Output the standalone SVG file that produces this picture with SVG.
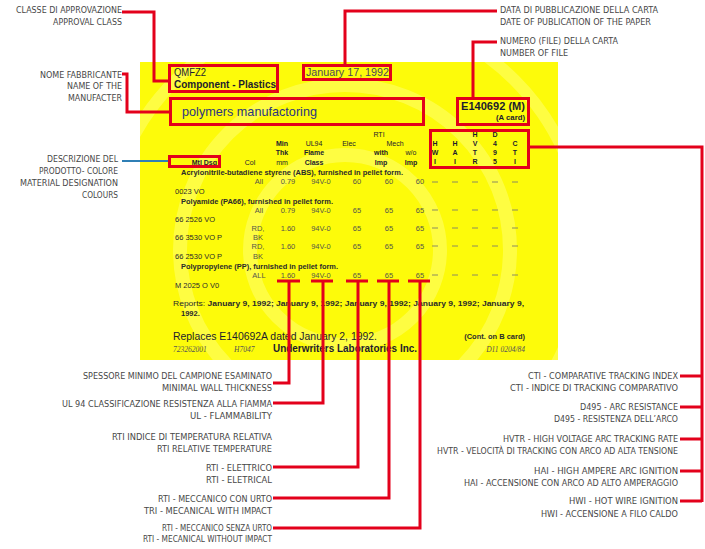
<svg xmlns="http://www.w3.org/2000/svg" width="705" height="549" viewBox="0 0 705 549">
<defs>
<clipPath id="cardClip"><rect x="140" y="62" width="418" height="298"/></clipPath>
<style>
.lbl{font-family:"Liberation Sans Narrow","DejaVu Sans Condensed","Liberation Sans",sans-serif;font-size:9.5px;fill:#474747}
.c{font-family:"Liberation Sans",Arial,sans-serif;fill:#1c1c2e}
.h{font-family:"Liberation Sans",Arial,sans-serif;font-size:7px;font-weight:bold;fill:#1c1c2e;text-anchor:middle}
.d{font-family:"Liberation Sans",Arial,sans-serif;font-size:7.5px;fill:#55554a;text-anchor:middle}
.r{font-family:"Liberation Sans",Arial,sans-serif;font-size:7.5px;fill:#2a2a2a}
.b{font-family:"Liberation Sans",Arial,sans-serif;font-size:7.5px;font-weight:bold;fill:#2a2a2a}
.box{fill:none;stroke:#e3001b;stroke-width:3}
.con{fill:none;stroke:#e3001b;stroke-width:3}
.dash{stroke:#8a8a60;stroke-width:1}
</style>
</defs>
<rect width="705" height="549" fill="#ffffff"/>

<g id="card">
<rect x="140" y="62" width="418" height="298" fill="#fdfb0a"/>
<g clip-path="url(#cardClip)" fill="none" stroke="#ffff7a" stroke-opacity="0.5">
<circle cx="345" cy="250" r="165" stroke-width="14"/>
<circle cx="345" cy="250" r="95" stroke-width="14"/>
<circle cx="345" cy="250" r="240" stroke-width="12"/>
</g>
<text class="c" x="174" y="76" font-size="10.5" textLength="32" lengthAdjust="spacingAndGlyphs">QMFZ2</text>
<text class="c" x="174" y="88" font-size="10.5" font-weight="bold" textLength="102" lengthAdjust="spacingAndGlyphs">Component - Plastics</text>
<text class="c" x="306" y="76" font-size="10.5" style="fill:#4a4a5a" textLength="83" lengthAdjust="spacingAndGlyphs">January 17, 1992</text>
<text class="c" x="182" y="115.5" font-size="13" style="fill:#2b3580" textLength="135" lengthAdjust="spacingAndGlyphs">polymers manufactoring</text>
<text class="c" x="461" y="110" font-size="11" font-weight="bold" textLength="64" lengthAdjust="spacingAndGlyphs">E140692 (M)</text>
<text class="c" x="496" y="120" font-size="7" font-weight="bold" textLength="29" lengthAdjust="spacingAndGlyphs">(A card)</text>

<text class="h" x="379" y="136.5" style="font-weight:normal">RTI</text>
<text class="h" x="282" y="145.5">Min</text>
<text class="h" x="314" y="145.5" style="font-weight:normal">UL94</text>
<text class="h" x="349" y="145.5" style="font-weight:normal">Elec</text>
<text class="h" x="395" y="145.5" style="font-weight:normal">Mech</text>
<text class="h" x="282" y="155">Thk</text>
<text class="h" x="314" y="155">Flame</text>
<text class="h" x="381" y="155">with</text>
<text class="h" x="411" y="155" style="font-weight:normal">w/o</text>
<text class="h" x="217" y="164.5" style="text-anchor:end">Mtl Dsg</text>
<text class="h" x="250" y="164.5" style="font-weight:normal">Col</text>
<text class="h" x="282" y="164.5" style="font-weight:normal">mm</text>
<text class="h" x="314" y="164.5">Class</text>
<text class="h" x="381" y="164.5">Imp</text>
<text class="h" x="411" y="164.5">Imp</text>

<text class="h" x="475" y="136.5">H</text><text class="h" x="495" y="136.5">D</text>
<text class="h" x="435" y="145.5">H</text><text class="h" x="455" y="145.5">H</text><text class="h" x="475" y="145.5">V</text><text class="h" x="495" y="145.5">4</text><text class="h" x="515" y="145.5">C</text>
<text class="h" x="435" y="154.5">W</text><text class="h" x="455" y="154.5">A</text><text class="h" x="475" y="154.5">T</text><text class="h" x="495" y="154.5">9</text><text class="h" x="515" y="154.5">T</text>
<text class="h" x="435" y="163.5">I</text><text class="h" x="455" y="163.5">I</text><text class="h" x="475" y="163.5">R</text><text class="h" x="495" y="163.5">5</text><text class="h" x="515" y="163.5">I</text>

<text class="b" x="181" y="174.5" textLength="222" lengthAdjust="spacingAndGlyphs">Acrylonitrile-butadiene styrene (ABS), furnished in pellet form.</text>
<text class="d" x="259" y="184">All</text><text class="d" x="288" y="184">0.79</text><text class="d" x="321" y="184">94V-0</text><text class="d" x="357" y="184">60</text><text class="d" x="389" y="184">60</text><text class="d" x="420" y="184">60</text>
<text class="r" x="175" y="194">0023 VO</text>
<text class="b" x="181" y="203.5" textLength="152" lengthAdjust="spacingAndGlyphs">Polyamide (PA66), furnished in pellet form.</text>
<text class="d" x="259" y="213">All</text><text class="d" x="288" y="213">0.79</text><text class="d" x="321" y="213">94V-0</text><text class="d" x="357" y="213">65</text><text class="d" x="389" y="213">65</text><text class="d" x="420" y="213">65</text>
<text class="r" x="175" y="222">66 2526 VO</text>
<text class="d" x="258" y="231">RD,</text><text class="d" x="288" y="231">1.60</text><text class="d" x="321" y="231">94V-0</text><text class="d" x="357" y="231">65</text><text class="d" x="389" y="231">65</text><text class="d" x="420" y="231">65</text>
<text class="r" x="175" y="240">66 3530 VO P</text><text class="d" x="258" y="240">BK</text>
<text class="d" x="258" y="249">RD,</text><text class="d" x="288" y="249">1.60</text><text class="d" x="321" y="249">94V-0</text><text class="d" x="357" y="249">65</text><text class="d" x="389" y="249">65</text><text class="d" x="420" y="249">65</text>
<text class="r" x="175" y="259">66 2530 VO P</text><text class="d" x="258" y="259">BK</text>
<text class="b" x="181" y="268.5" textLength="157" lengthAdjust="spacingAndGlyphs">Polypropylene (PP), furnished in pellet form.</text>
<text class="d" x="259" y="278">ALL</text><text class="d" x="288" y="278">1.60</text><text class="d" x="321" y="278">94V-0</text><text class="d" x="357" y="278">65</text><text class="d" x="389" y="278">65</text><text class="d" x="420" y="278">65</text>
<text class="r" x="175" y="288">M 2025 O V0</text>

<g class="dash">
<path d="M432,182H438M452,182H458M472,182H478M492,182H498M512,182H518"/>
<path d="M432,210H438M452,210H458M472,210H478M492,210H498M512,210H518"/>
<path d="M432,228H438M452,228H458M472,228H478M492,228H498M512,228H518"/>
<path d="M432,246H438M452,246H458M472,246H478M492,246H498M512,246H518"/>
<path d="M432,275H438M452,275H458M472,275H478M492,275H498M512,275H518"/>
</g>

<text class="r" x="173" y="305.5" textLength="351" lengthAdjust="spacingAndGlyphs" font-size="8">Reports: <tspan font-weight="bold">January 9, 1992; January 9, 1992; January 9, 1992; January 9, 1992; January 9,</tspan></text>
<text class="b" x="181" y="315.5" font-size="8">1992.</text>
<text class="c" x="173" y="340" font-size="11.5" textLength="204" lengthAdjust="spacingAndGlyphs">Replaces E140692A dated January 2, 1992.</text>
<text class="b" x="525" y="339" style="text-anchor:end">(Cont. on B card)</text>
<text class="r" x="173" y="352" font-size="6.5" style="font-family:'Liberation Serif',serif;font-style:italic;fill:#555">723262001</text>
<text class="r" x="234" y="352" font-size="6.5" style="font-family:'Liberation Serif',serif;font-style:italic;fill:#555">H7047</text>
<text class="c" x="273" y="352" font-size="10" font-weight="bold" textLength="144" lengthAdjust="spacingAndGlyphs">Underwriters Laboratories Inc.</text>
<text class="r" x="525" y="352" font-size="6.5" style="font-family:'Liberation Serif',serif;font-style:italic;fill:#555;text-anchor:end">D11 0204/84</text>
</g>

<g id="boxes">
<rect class="box" x="169.5" y="65.5" width="108" height="26"/>
<rect class="box" x="303.5" y="65.5" width="87" height="14"/>
<rect class="box" x="170.5" y="98.5" width="253" height="26"/>
<rect class="box" x="457.5" y="98.5" width="71" height="26"/>
<rect class="box" x="430.5" y="130.5" width="98" height="37"/>
<rect class="box" x="169.5" y="156.5" width="50" height="10"/>
</g>

<g id="connectors">
<path class="con" d="M122,12H154V81H168"/>
<path class="con" d="M497,11H345V64"/>
<path class="con" d="M497,42H473V97"/>
<path class="con" d="M122,74H127V112H169"/>
<path d="M122,161H168" fill="none" stroke="#2f7fb5" stroke-width="2"/>
<path class="con" d="M530,147H702V502"/>
<path class="con" d="M680,376H702M680,407H702M680,439H702M680,471H702M680,501H702"/>
<path class="con" d="M277,281H300M289,281V383H273"/>
<path class="con" d="M311,281H333M323,281V403H273"/>
<path class="con" d="M346,281H368M358,281V467H273"/>
<path class="con" d="M377,281H399M389,281V498H273"/>
<path class="con" d="M408,281H430M420,281V528H273"/>
</g>

<g id="label-approval"><text class="lbl" x="16" y="12.5" textLength="106" lengthAdjust="spacingAndGlyphs">CLASSE DI APPROVAZIONE</text><text class="lbl" x="53" y="24.5" textLength="69" lengthAdjust="spacingAndGlyphs">APPROVAL CLASS</text></g>
<g id="label-name"><text class="lbl" x="40" y="77.5" textLength="82" lengthAdjust="spacingAndGlyphs">NOME FABBRICANTE</text><text class="lbl" x="67" y="89" textLength="55" lengthAdjust="spacingAndGlyphs">NAME OF THE</text><text class="lbl" x="68" y="101" textLength="54" lengthAdjust="spacingAndGlyphs">MANUFACTER</text></g>
<g id="label-desc"><text class="lbl" x="47" y="161.5" textLength="71" lengthAdjust="spacingAndGlyphs">DESCRIZIONE DEL</text><text class="lbl" x="39" y="173.5" textLength="79" lengthAdjust="spacingAndGlyphs">PRODOTTO- COLORE</text><text class="lbl" x="20" y="185.5" textLength="98" lengthAdjust="spacingAndGlyphs">MATERIAL DESIGNATION</text><text class="lbl" x="82" y="197.5" textLength="36" lengthAdjust="spacingAndGlyphs">COLOURS</text></g>
<g id="label-date"><text class="lbl" x="500" y="12.5" textLength="158" lengthAdjust="spacingAndGlyphs">DATA DI PUBBLICAZIONE DELLA CARTA</text><text class="lbl" x="500" y="24.5" textLength="151" lengthAdjust="spacingAndGlyphs">DATE OF PUBLICATION OF THE PAPER</text></g>
<g id="label-number"><text class="lbl" x="500" y="43.5" textLength="118" lengthAdjust="spacingAndGlyphs">NUMERO (FILE) DELLA CARTA</text><text class="lbl" x="500" y="55.5" textLength="68" lengthAdjust="spacingAndGlyphs">NUMBER OF FILE</text></g>

<g id="label-thickness"><text class="lbl" x="83" y="378.5" textLength="189" lengthAdjust="spacingAndGlyphs">SPESSORE MINIMO DEL CAMPIONE ESAMINATO</text><text class="lbl" x="162" y="390.5" textLength="110" lengthAdjust="spacingAndGlyphs">MINIMAL WALL THICKNESS</text></g>
<g id="label-ul94"><text class="lbl" x="62" y="406.5" textLength="210" lengthAdjust="spacingAndGlyphs">UL 94 CLASSIFICAZIONE RESISTENZA ALLA FIAMMA</text><text class="lbl" x="190" y="419" textLength="82" lengthAdjust="spacingAndGlyphs">UL - FLAMMABILITY</text></g>
<g id="label-rti"><text class="lbl" x="112" y="439.5" textLength="160" lengthAdjust="spacingAndGlyphs">RTI INDICE DI TEMPERATURA RELATIVA</text><text class="lbl" x="157" y="451.5" textLength="115" lengthAdjust="spacingAndGlyphs">RTI RELATIVE TEMPERATURE</text></g>
<g id="label-rti-elec"><text class="lbl" x="206" y="470.5" textLength="66" lengthAdjust="spacingAndGlyphs">RTI - ELETTRICO</text><text class="lbl" x="206" y="482.5" textLength="66" lengthAdjust="spacingAndGlyphs">RTI - ELETRICAL</text></g>
<g id="label-rti-with"><text class="lbl" x="158" y="501.5" textLength="114" lengthAdjust="spacingAndGlyphs">RTI - MECCANICO CON URTO</text><text class="lbl" x="144" y="513.5" textLength="128" lengthAdjust="spacingAndGlyphs">TRI - MECANICAL WITH IMPACT</text></g>
<g id="label-rti-without"><text class="lbl" x="162" y="531" textLength="110" lengthAdjust="spacingAndGlyphs" font-size="8.5">RTI - MECCANICO SENZA URTO</text><text class="lbl" x="143" y="542" textLength="129" lengthAdjust="spacingAndGlyphs" font-size="8.5">RTI - MECANICAL WITHOUT IMPACT</text></g>

<g id="label-cti"><text class="lbl" x="528" y="378.5" textLength="150" lengthAdjust="spacingAndGlyphs">CTI - COMPARATIVE TRACKING INDEX</text><text class="lbl" x="510" y="390.5" textLength="168" lengthAdjust="spacingAndGlyphs">CTI - INDICE DI TRACKING COMPARATIVO</text></g>
<g id="label-d495"><text class="lbl" x="580" y="409.5" textLength="98" lengthAdjust="spacingAndGlyphs">D495 - ARC RESISTANCE</text><text class="lbl" x="554" y="421.5" textLength="124" lengthAdjust="spacingAndGlyphs">D495 - RESISTENZA DELL’ARCO</text></g>
<g id="label-hvtr"><text class="lbl" x="503" y="442" textLength="175" lengthAdjust="spacingAndGlyphs">HVTR - HIGH VOLTAGE ARC TRACKING RATE</text><text class="lbl" x="437" y="454" textLength="241" lengthAdjust="spacingAndGlyphs">HVTR - VELOCITÀ DI TRACKING CON ARCO AD ALTA TENSIONE</text></g>
<g id="label-hai"><text class="lbl" x="534" y="473.5" textLength="144" lengthAdjust="spacingAndGlyphs">HAI - HIGH AMPERE ARC IGNITION</text><text class="lbl" x="464" y="485.5" textLength="214" lengthAdjust="spacingAndGlyphs">HAI - ACCENSIONE CON ARCO AD ALTO AMPERAGGIO</text></g>
<g id="label-hwi"><text class="lbl" x="569" y="504" textLength="109" lengthAdjust="spacingAndGlyphs">HWI - HOT WIRE IGNITION</text><text class="lbl" x="541" y="516.5" textLength="137" lengthAdjust="spacingAndGlyphs">HWI - ACCENSIONE A FILO CALDO</text></g>
</svg>
